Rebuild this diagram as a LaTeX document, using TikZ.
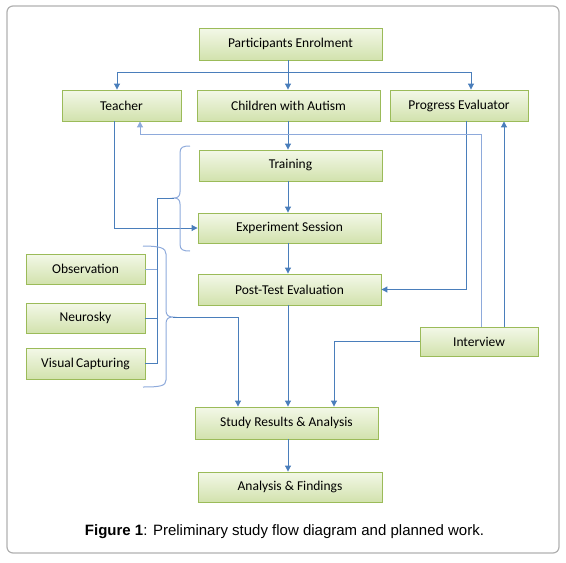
\documentclass[tikz,border=0pt]{standalone}
\usepackage{fontspec}
\setmainfont{Carlito}
\newfontfamily\capfont{Liberation Sans}
\usetikzlibrary{arrows.meta,shadows}
\definecolor{arrowblue}{HTML}{4A7EBB}
\definecolor{lightblue}{HTML}{8EAADB}
\definecolor{boxborder}{HTML}{9BBB59}
\definecolor{boxtop}{HTML}{F3F8E8}
\definecolor{boxbottom}{HTML}{D2E2AD}
\definecolor{framegray}{HTML}{B0B0B0}
\begin{document}
\begin{tikzpicture}[x=1pt,y=-1pt,
  box/.style={draw=boxborder, line width=0.9pt, top color=boxtop, bottom color=boxbottom,
    inner sep=0pt, font=\fontsize{13.5}{15}\selectfont, text=black,
    drop shadow={shadow xshift=1.2pt, shadow yshift=-1.2pt, opacity=0.25}},
  flow/.style={draw=arrowblue, line width=1pt, -{Triangle[width=6pt,length=6pt]}},
  flowlight/.style={draw=lightblue, line width=1pt, -{Triangle[width=6pt,length=6pt]}},
  conn/.style={draw=arrowblue, line width=1pt},
  connlight/.style={draw=lightblue, line width=1pt},
  bracel/.style={draw=lightblue, line width=1pt}]
\useasboundingbox (0,0) rectangle (566,563);
\draw[framegray, line width=1.2pt, rounded corners=6pt] (7,6) rectangle (559,553);

\node[box, minimum width=183pt, minimum height=32pt] (pe) at (290.5,44) {Participants Enrolment};
\node[box, minimum width=119pt, minimum height=31pt] (teacher) at (121.5,105.5) {Teacher};
\node[box, minimum width=183pt, minimum height=31pt] (cwa) at (288.5,105.5) {Children with Autism};
\node[box, minimum width=138pt, minimum height=31pt] (pev) at (459,105.5) {Progress Evaluator};
\node[box, minimum width=183pt, minimum height=31pt] (train) at (290.5,165.5) {Training};
\node[box, minimum width=183pt, minimum height=30pt] (exp) at (289.5,228) {Experiment Session};
\node[box, minimum width=183pt, minimum height=31pt] (post) at (289.5,289.5) {Post-Test Evaluation};
\node[box, minimum width=119pt, minimum height=30pt] (obs) at (85.5,269) {Observation};
\node[box, minimum width=119pt, minimum height=30pt] (neuro) at (85.5,318) {Neurosky};
\node[box, minimum width=119pt, minimum height=31pt] (vis) at (85.5,363.5) {Visual\,Capturing};
\node[box, minimum width=118pt, minimum height=29pt] (intv) at (479,341.5) {Interview};
\node[box, minimum width=183pt, minimum height=32pt] (study) at (286.5,423) {Study Results \& Analysis};
\node[box, minimum width=184pt, minimum height=30pt] (anf) at (290,487) {Analysis \& Findings};

\node[font=\capfont\fontsize{15}{17}\selectfont, text=black] (cap) at (284.5,532)
  {\textbf{Figure 1}: Preliminary study flow diagram and planned work.};

% enrolment split
\coordinate (split) at (288,72);
\draw[conn] (pe.south -| split) -- (split);
\draw[flow] (split) -| ([xshift=-4.5pt]teacher.north);
\draw[flow] (split) -| ([xshift=12pt]pev.north);
\draw[flow] (split) -- (cwa.north -| split);

% main chain
\draw[flow] (cwa.south -| split) -- (train.north -| split);
\draw[flow] (train.south -| split) -- (exp.north -| split);
\draw[flow] (exp.south -| split) -- (post.north -| split);
\draw[flow] (post.south -| split) -- (study.north -| split);
\draw[flow] (study.south -| split) -- (anf.north -| split);

% teacher -> experiment
\draw[flow] ([xshift=-7.5pt]teacher.south) |- (exp.west);
% progress evaluator -> post-test
\draw[flow] ([xshift=7pt]pev.south) |- (post.east);
% interview -> teacher
\coordinate (ivturn) at (481,134);
\draw[flowlight] ([xshift=2pt]intv.north) -- (ivturn) -| ([xshift=18.5pt]teacher.south);
% interview -> progress evaluator
\draw[flow] ([xshift=25pt]intv.north) -- ([xshift=45pt]pev.south);
% interview -> study results
\draw[flow] (intv.west) -| ([xshift=47.5pt]study.north);

% brace 1 (left brace beside Training / Experiment)
\coordinate (cusp1) at (174,198);
\draw[bracel] (190,146) .. controls (183,146) and (180,147) .. (180,153) -- (180,192)
  .. controls (180,196) and (178,198) .. (cusp1) .. controls (178,198) and (180,200) .. (180,204)
  -- (180,244) .. controls (180,250) and (183,251) .. (190,251);
\coordinate (bj) at (157,198);
\draw[conn] (cusp1) -- (bj) -- (vis.east -| bj) -- (vis.east);
\draw[connlight] (obs.east) -- (obs.east -| bj);
\draw[conn] (neuro.east) -- (neuro.east -| bj);

% brace 2 (right brace beside the three tools)
\coordinate (cusp2) at (173,317);
\draw[bracel] (143,246) .. controls (160,246) and (166,248) .. (166,254) -- (166,310)
  .. controls (166,315) and (168,317) .. (cusp2) .. controls (168,317) and (166,319) .. (166,324)
  -- (166,380) .. controls (166,386) and (160,387) .. (143,387);
\coordinate (b2turn) at (238,317);
\draw[flow] (cusp2) -- (b2turn) -- ([xshift=-48.5pt]study.north);
\end{tikzpicture}
\end{document}
